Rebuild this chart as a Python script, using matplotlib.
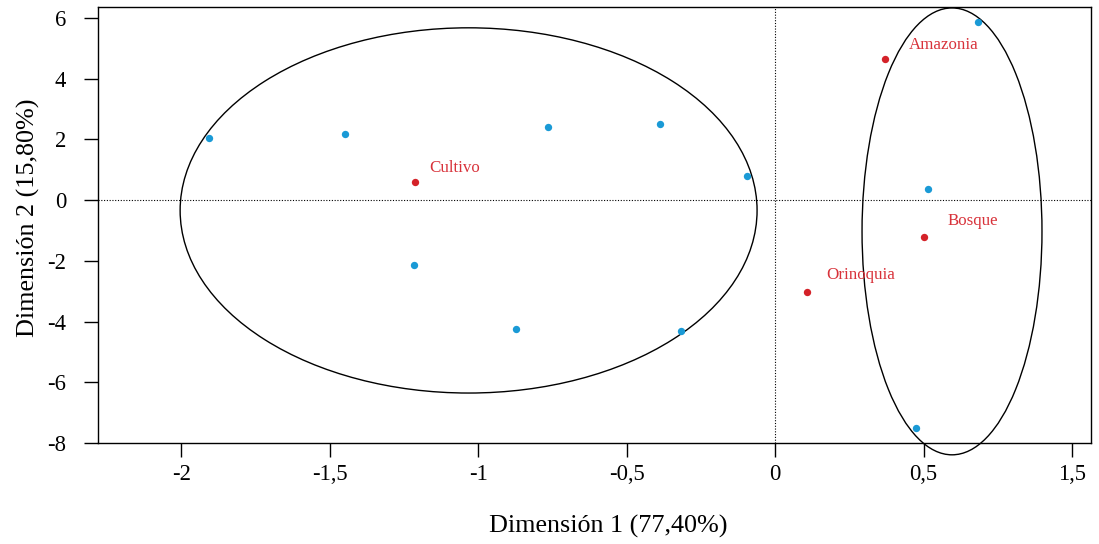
import matplotlib
matplotlib.use("Agg")
import matplotlib.pyplot as plt
from matplotlib.patches import Ellipse

plt.rcParams['font.family'] = ['Liberation Serif', 'DejaVu Serif']
plt.rcParams['axes.unicode_minus'] = False

# puntos azules (individuos)
ind_x = [-1.906, -1.448, -0.764, -0.387, -0.094, -1.215, -0.872, -0.316, 0.684, 0.515, 0.475]
ind_y = [2.06, 2.19, 2.42, 2.52, 0.81, -2.15, -4.25, -4.32, 5.87, 0.38, -7.5]

# puntos rojos (categorias)
cat_nombres = ['Cultivo', 'Amazonia', 'Bosque', 'Orinoquia']
cat_x = [-1.212, 0.370, 0.502, 0.108]
cat_y = [0.61, 4.65, -1.23, -3.03]

# elipses: centro x, centro y, ancho, alto
elip_cx = [-1.032, 0.596]
elip_cy = [-0.34, -1.03]
elip_w = [1.943, 0.606]
elip_h = [12.03, 14.72]

xticks = [-2, -1.5, -1, -0.5, 0, 0.5, 1.0]
xtick_labels = ['-2', '-1,5', '-1', '-0,5', '0', '0,5', '1,5']
yticks = [6, 4, 2, 0, -2, -4, -6, -8]

fig, ax = plt.subplots(figsize=(10.99, 5.44), dpi=100)
fig.subplots_adjust(left=0.0892, right=0.9927, top=0.9871, bottom=0.1857)

ax.axhline(0, color='black', lw=0.8, ls=(0, (1, 1.5)), zorder=1)
ax.axvline(0, color='black', lw=0.8, ls=(0, (1, 1.5)), zorder=1)

for cx, cy, w, h in zip(elip_cx, elip_cy, elip_w, elip_h):
    e = Ellipse((cx, cy), w, h, fill=False, edgecolor='black', lw=1.0, clip_on=False, zorder=2)
    ax.add_patch(e)

ax.scatter(ind_x, ind_y, s=28, color='#1a9ad6', zorder=3, linewidths=0)
ax.scatter(cat_x, cat_y, s=28, color='#d42229', zorder=3, linewidths=0)

offs = [(10, 10), (17, 10), (17, 12), (14, 12)]   # desplazamiento de etiquetas en puntos
for n, x, y, o in zip(cat_nombres, cat_x, cat_y, offs):
    ax.annotate(n, (x, y), xytext=o, textcoords='offset points', color='#d8323a',
                fontsize=12.2, va='center', ha='left')

ax.set_xlim(-2.28, 1.064)
ax.set_ylim(-7.97, 6.36)
ax.set_xticks(xticks)
ax.set_xticklabels(xtick_labels)
ax.set_yticks(yticks)
ax.tick_params(axis='both', direction='out', length=10, width=1, labelsize=16.3)
ax.tick_params(axis='x', pad=5)
ax.tick_params(axis='y', pad=13)
for s in ax.spines.values():
    s.set_linewidth(1.0)

ax.set_xlabel('Dimensión 1 (77,40%)', fontsize=18.8)
ax.set_ylabel('Dimensión 2 (15,80%)', fontsize=18.8)
ax.xaxis.set_label_coords(0.514, -0.166)
ax.yaxis.set_label_coords(-0.058, 0.517)

plt.savefig('out.png', dpi=100)
